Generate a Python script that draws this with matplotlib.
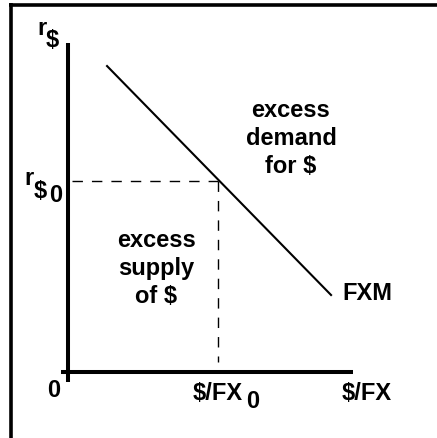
import matplotlib
matplotlib.use("Agg")
import matplotlib.pyplot as plt

plt.rcParams['font.family'] = ['Liberation Sans', 'DejaVu Sans']

# Diagram data (economic units, axes span 0..10)
fxm_x = [1.37, 9.23]
fxm_y = [9.30, 2.34]
eq_x = 5.26
eq_y = 5.82

W, H = 437, 438
fig = plt.figure(figsize=(W / 100, H / 100), dpi=100)
fig.patch.set_facecolor('white')

# overlay in pixel coordinates for frame and labels
oax = fig.add_axes([0, 0, 1, 1])
oax.set_xlim(0, W)
oax.set_ylim(H, 0)
oax.axis('off')
oax.patch.set_alpha(0)

# main diagram axes: origin at px (68, 372), right end 353, top 43
x0, y0, x1, y1 = 68, 372, 353, 43
ax = fig.add_axes([x0 / W, (H - y0) / H, (x1 - x0) / W, (y0 - y1) / H])
ax.set_xlim(0, 10)
ax.set_ylim(0, 10)
ax.axis('off')
ax.patch.set_alpha(0)

# axes lines
ax.plot([0, 0], [-0.3, 10], color='black', lw=2.9, solid_capstyle='butt', clip_on=False)
ax.plot([-0.25, 10], [0, 0], color='black', lw=2.9, solid_capstyle='butt', clip_on=False)

# FXM curve
ax.plot(fxm_x, fxm_y, color='black', lw=1.5, clip_on=False)

# dashed guides
ax.plot([0.15, eq_x], [eq_y, eq_y], color='black', lw=1.0, dashes=(7.5, 6.5), clip_on=False)
ax.plot([eq_x, eq_x], [eq_y, 0.3], color='black', lw=1.0, dashes=(7.5, 6.5), clip_on=False)

# frame (top and left)
oax.plot([9, W], [4.5, 4.5], color='black', lw=2.6, solid_capstyle='butt')
oax.plot([10.5, 10.5], [3, H], color='black', lw=2.6, solid_capstyle='butt')

fs = 17
kw = dict(fontsize=fs, fontweight='bold', color='black')

# y-axis labels
oax.text(37, 35, 'r', ha='left', va='baseline', **kw)
oax.text(46, 47, '$', ha='left', va='baseline', **kw)
oax.text(24, 185, 'r', ha='left', va='baseline', **kw)
oax.text(34, 198, '$', ha='left', va='baseline', **kw)
oax.text(49, 202, '0', ha='left', va='baseline', **kw)

# x-axis labels
oax.text(54, 397, '0', ha='center', va='baseline', **kw)
oax.text(193, 400, '$/FX', ha='left', va='baseline', **kw)
oax.text(246, 408, '0', ha='left', va='baseline', **kw)
oax.text(342, 400, '$/FX', ha='left', va='baseline', **kw)

# region and curve labels
oax.text(342, 300, 'FXM', ha='left', va='baseline', **kw)
for txt, yb in [('excess', 117), ('demand', 145), ('for $', 173)]:
    oax.text(291, yb, txt, ha='center', va='baseline', **kw)
for txt, yb in [('excess', 247), ('supply', 275), ('of $', 303)]:
    oax.text(156, yb, txt, ha='center', va='baseline', **kw)

fig.savefig('out.png', dpi=100, facecolor='white')
